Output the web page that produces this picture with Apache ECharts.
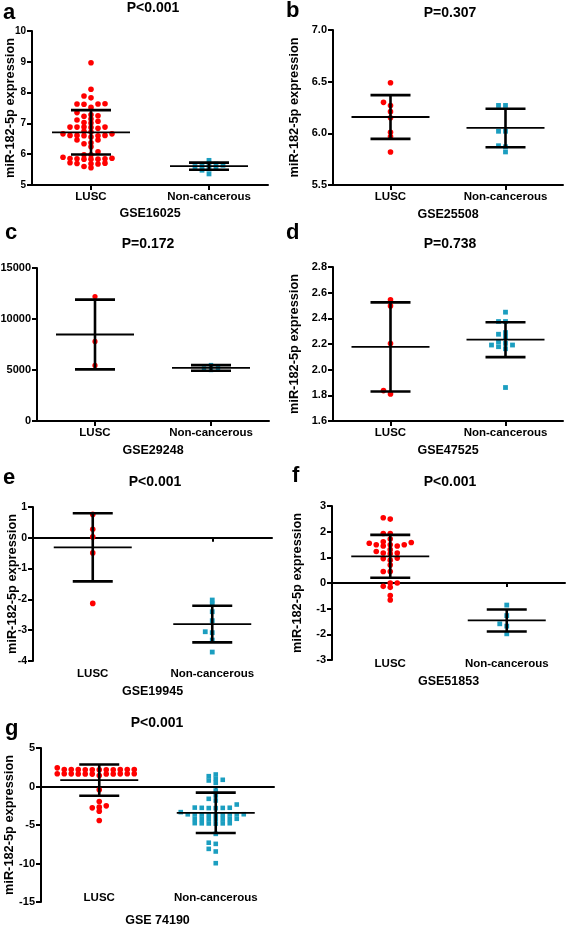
<!DOCTYPE html>
<html><head><meta charset="utf-8">
<script src="https://cdn.jsdelivr.net/npm/echarts@6/dist/echarts.min.js"></script>
<style>html,body{margin:0;padding:0;background:#fff}#c{width:567px;height:928px}</style>
</head><body><div id="c"></div>
<script>
const categories = ['LUSC', 'Non-cancerous'];
const yAxisTitle = 'miR-182-5p expression';

// a — GSE16025
const aTitle = 'P<0.001';
const aDataset = 'GSE16025';
const aLUSC = [8.97, 8.11, 7.89, 7.83, 7.64, 7.63, 7.63, 7.62, 7.52, 7.35, 7.28, 7.25, 7.23, 7.14, 7.11, 7.07, 7.03, 7.01, 6.88, 6.88, 6.88, 6.88, 6.87, 6.84, 6.74, 6.72, 6.66, 6.66, 6.61, 6.61, 6.61, 6.60, 6.60, 6.56, 6.46, 6.46, 6.37, 6.34, 6.24, 6.08, 5.98, 5.98, 5.90, 5.87, 5.86, 5.85, 5.85, 5.84, 5.84, 5.84, 5.72, 5.71, 5.70, 5.69, 5.68, 5.60, 5.56];
const aNC = [5.80, 5.68, 5.66, 5.64, 5.62, 5.60, 5.55, 5.52, 5.48, 5.36];
const aMean = [6.71, 5.61];
const aSD = [0.72, 0.115];
const aTicks = [5, 6, 7, 8, 9, 10];

// b — GSE25508
const bTitle = 'P=0.307';
const bDataset = 'GSE25508';
const bLUSC = [6.49, 6.30, 6.27, 6.21, 6.15, 6.01, 5.97, 5.82];
const bNC = [6.27, 6.27, 6.02, 6.02, 5.88, 5.87, 5.82];
const bMean = [6.158, 6.052];
const bSD = [0.212, 0.186];
const bTicks = [5.5, 6.0, 6.5, 7.0];

// c — GSE29248
const cTitle = 'P=0.172';
const cDataset = 'GSE29248';
const cLUSC = [12200, 7800, 5450];
const cNC = [5480, 5200, 5150, 5000];
const cMean = [8480, 5200];
const cSD = [3420, 280];
const cTicks = [0, 5000, 10000, 15000];

// d — GSE47525
const dTitle = 'P=0.738';
const dDataset = 'GSE47525';
const dLUSC = [2.544, 2.497, 2.203, 1.837, 1.811];
const dNC = [2.448, 2.375, 2.375, 2.289, 2.276, 2.255, 2.218, 2.205, 2.192, 2.192, 2.179, 2.163, 1.861];
const dMean = [2.177, 2.234];
const dSD = [0.347, 0.136];
const dTicks = [1.6, 1.8, 2.0, 2.2, 2.4, 2.6, 2.8];

// e — GSE19945
const eTitle = 'P<0.001';
const eDataset = 'GSE19945';
const eLUSC = [0.76, 0.28, 0.03, -0.49, -2.13];
const eNC = [-2.02, -2.15, -2.40, -2.69, -3.05, -3.08, -3.32, -3.71];
const eMean = [-0.31, -2.80];
const eSD = [1.105, 0.595];
const eTicks = [-4, -3, -2, -1, 0, 1];

// f — GSE51853
const fTitle = 'P<0.001';
const fDataset = 'GSE51853';
const fLUSC = [2.54, 2.49, 1.93, 1.93, 1.71, 1.61, 1.58, 1.55, 1.49, 1.49, 1.49, 1.44, 1.44, 1.30, 1.23, 1.17, 1.17, 1.14, 0.97, 0.95, 0.89, 0.70, 0.45, 0.45, 0.00, 0.00, -0.13, -0.17, -0.49, -0.66];
const fNC = [-0.86, -1.27, -1.59, -1.68, -1.98];
const fMean = [1.04, -1.46];
const fSD = [0.835, 0.43];
const fTicks = [-3, -2, -1, 0, 1, 2, 3];

// g — GSE 74190
const gTitle = 'P<0.001';
const gDataset = 'GSE 74190';
const gLUSC = [2.42, 2.21, 2.21, 2.20, 2.20, 2.19, 2.19, 2.18, 2.18, 2.17, 2.17, 2.17, 1.66, 1.66, 1.65, 1.65, 1.64, 1.64, 1.63, 1.63, 1.62, 1.62, 1.61, 1.43, -0.43, -1.95, -2.51, -2.68, -2.77, -3.20, -4.42];
const gNC = [1.56, 1.34, 1.00, 0.87, 0.78, 0.48, -0.52, -1.17, -1.60, -1.82, -2.34, -2.74, -2.76, -2.77, -2.78, -2.80, -2.81, -3.33, -3.60, -3.61, -3.62, -3.63, -3.64, -3.65, -3.66, -3.67, -3.68, -4.19, -4.20, -4.21, -4.22, -4.23, -4.24, -4.25, -4.76, -4.77, -4.78, -4.79, -4.80, -4.82, -6.15, -7.30, -7.45, -8.10, -8.44, -9.96];
const gMean = [0.82, -3.42];
const gSD = [2.03, 2.62];
const gTicks = [-15, -10, -5, 0, 5];

const panels = [
  {letter: 'a', title: aTitle, dataset: aDataset, lusc: aLUSC, nc: aNC, mean: aMean, sd: aSD, ticks: aTicks, dec: 0, yName: true},
  {letter: 'b', title: bTitle, dataset: bDataset, lusc: bLUSC, nc: bNC, mean: bMean, sd: bSD, ticks: bTicks, dec: 1, yName: true},
  {letter: 'c', title: cTitle, dataset: cDataset, lusc: cLUSC, nc: cNC, mean: cMean, sd: cSD, ticks: cTicks, dec: 0, yName: false},
  {letter: 'd', title: dTitle, dataset: dDataset, lusc: dLUSC, nc: dNC, mean: dMean, sd: dSD, ticks: dTicks, dec: 1, yName: true},
  {letter: 'e', title: eTitle, dataset: eDataset, lusc: eLUSC, nc: eNC, mean: eMean, sd: eSD, ticks: eTicks, dec: 0, yName: true},
  {letter: 'f', title: fTitle, dataset: fDataset, lusc: fLUSC, nc: fNC, mean: fMean, sd: fSD, ticks: fTicks, dec: 0, yName: true},
  {letter: 'g', title: gTitle, dataset: gDataset, lusc: gLUSC, nc: gNC, mean: gMean, sd: gSD, ticks: gTicks, dec: 0, yName: true}
];

// layout (pixels) for each panel
const layout = [
  {left: 32, top: 31, width: 236, height: 154, yNameGap: 15.5, tickFont: 10, labelMargin: 6, xNameGap: 22, zero: false, letterPos: [3, 13], titlePos: [153, 8], r: 2.8, s: 4.8},
  {left: 333, top: 30, width: 230, height: 155, yNameGap: 32, tickFont: 11, labelMargin: 6, xNameGap: 23, zero: false, letterPos: [286, 11], titlePos: [450, 13], r: 2.8, s: 4.8},
  {left: 37, top: 268, width: 232, height: 153, yNameGap: 30, tickFont: 11, labelMargin: 6, xNameGap: 23, zero: false, letterPos: [5, 233], titlePos: [148, 244], r: 2.6, s: 4.4},
  {left: 333, top: 267, width: 230, height: 154, yNameGap: 32, tickFont: 11, labelMargin: 5.5, xNameGap: 23, zero: false, letterPos: [286, 233], titlePos: [450, 244], r: 2.8, s: 4.8},
  {left: 33, top: 507, width: 239, height: 154, yNameGap: 14, tickFont: 10.5, labelMargin: 7, xNameGap: 24, zero: true, letterPos: [3, 478], titlePos: [155, 482], r: 2.8, s: 4.8},
  {left: 332, top: 506, width: 233, height: 154, yNameGap: 28, tickFont: 11, labelMargin: -2, xNameGap: 15, zero: true, letterPos: [292, 476], titlePos: [450, 482], r: 2.8, s: 4.8},
  {left: 41, top: 748, width: 233, height: 154, yNameGap: 25, tickFont: 11, labelMargin: -10, xNameGap: 12, zero: true, letterPos: [5, 729], titlePos: [157, 723], r: 2.8, s: 4.6}
];

const FONT = '"Liberation Sans", Arial, Helvetica, sans-serif';
const RED = '#ff0000';
const TEAL = '#1b9ec0';
const STEP = 7, DMIN = 3.8;

// beeswarm: horizontal pixel offsets so points with close values sit side by side
function swarm(values, pxPerUnit) {
  const order = values.map((v, i) => i).sort((a, b) => values[a] - values[b]);
  const placed = [];
  const off = new Array(values.length);
  order.forEach(i => {
    const y = values[i] * pxPerUnit;
    for (let k = 0; ; k++) {
      const slot = k === 0 ? 0 : (k % 2 === 1 ? -Math.ceil(k / 2) : Math.ceil(k / 2));
      if (!placed.some(p => p.slot === slot && Math.abs(p.y - y) < DMIN)) {
        placed.push({y, slot});
        off[i] = slot * STEP;
        break;
      }
    }
  });
  return off;
}

const option = {animation: false, backgroundColor: '#fff', grid: [], xAxis: [], yAxis: [], series: [], graphic: []};
const blackLine = {color: '#000', width: 2};

panels.forEach((p, i) => {
  const L = layout[i];
  option.grid.push({left: L.left, top: L.top, width: L.width, height: L.height, containLabel: false, outerBoundsMode: 'none'});
  const yMin = p.ticks[0], yMax = p.ticks[p.ticks.length - 1];
  const interval = +(p.ticks[1] - p.ticks[0]).toFixed(6);
  const xi = option.xAxis.length;
  option.xAxis.push({
    type: 'category', gridIndex: i, data: categories, boundaryGap: true, position: 'bottom',
    axisLine: {show: !L.zero, onZero: false, lineStyle: blackLine},
    axisTick: {show: !L.zero, alignWithLabel: true, length: 5, lineStyle: blackLine},
    axisLabel: {margin: L.labelMargin, color: '#000', fontSize: 11.5, fontWeight: 'bold', fontFamily: FONT},
    splitLine: {show: false},
    name: p.dataset, nameLocation: 'middle', nameGap: L.xNameGap, nameMoveOverlap: false,
    nameTextStyle: {color: '#000', fontSize: 12.5, fontWeight: 'bold', fontFamily: FONT}
  });
  if (L.zero) {
    option.xAxis.push({
      type: 'category', gridIndex: i, data: categories, boundaryGap: true, position: 'bottom',
      axisLine: {show: true, onZero: true, lineStyle: blackLine},
      axisTick: {show: true, alignWithLabel: true, length: 4, lineStyle: blackLine},
      axisLabel: {show: false}, splitLine: {show: false}
    });
  }
  option.yAxis.push({
    type: 'value', gridIndex: i, min: yMin, max: yMax, interval: interval,
    axisLine: {show: true, onZero: false, lineStyle: blackLine},
    axisTick: {show: true, inside: false, length: 5, lineStyle: blackLine},
    axisLabel: {show: true, showMinLabel: true, showMaxLabel: true, margin: 6, color: '#000', fontSize: L.tickFont, fontWeight: 'bold', fontFamily: FONT,
      formatter: v => Number(v).toFixed(p.dec)},
    splitLine: {show: false},
    name: p.yName ? yAxisTitle : '', nameLocation: 'middle', nameRotate: 90, nameGap: L.yNameGap, nameMoveOverlap: false,
    nameTextStyle: {color: '#000', fontSize: 12.8, fontWeight: 'bold', fontFamily: FONT}
  });
  const ppu = L.height / (yMax - yMin);
  const groups = [
    {vals: p.lusc, cat: 0, shape: 'circle', color: RED},
    {vals: p.nc, cat: 1, shape: 'square', color: TEAL}
  ];
  groups.forEach(g => {
    const offs = swarm(g.vals, ppu);
    option.series.push({
      type: 'custom', xAxisIndex: xi, yAxisIndex: i, z: 2, clip: false,
      encode: {x: 0, y: 1},
      data: g.vals.map((v, k) => [g.cat, v, offs[k]]),
      renderItem: (params, api) => {
        const c = api.coord([api.value(0), api.value(1)]);
        const x = c[0] + api.value(2);
        if (g.shape === 'circle') {
          return {type: 'circle', shape: {cx: x, cy: c[1], r: L.r}, style: {fill: g.color}};
        }
        return {type: 'rect', shape: {x: x - L.s / 2, y: c[1] - L.s / 2, width: L.s, height: L.s}, style: {fill: g.color}};
      }
    });
  });
  // mean ± SD bars
  option.series.push({
    type: 'custom', xAxisIndex: xi, yAxisIndex: i, z: 3, clip: false,
    encode: {x: 0, y: 1},
    data: p.mean.map((m, k) => [k, m, p.sd[k]]),
    renderItem: (params, api) => {
      const x = api.value(0), m = api.value(1), s = api.value(2);
      const pm = api.coord([x, m]), pt = api.coord([x, m + s]), pb = api.coord([x, m - s]);
      const st = w => ({stroke: '#000', lineWidth: w});
      return {type: 'group', children: [
        {type: 'line', shape: {x1: pm[0] - 39, y1: pm[1], x2: pm[0] + 39, y2: pm[1]}, style: st(1.8)},
        {type: 'line', shape: {x1: pt[0], y1: pt[1], x2: pb[0], y2: pb[1]}, style: st(2.6)},
        {type: 'line', shape: {x1: pt[0] - 20, y1: pt[1], x2: pt[0] + 20, y2: pt[1]}, style: st(2.6)},
        {type: 'line', shape: {x1: pb[0] - 20, y1: pb[1], x2: pb[0] + 20, y2: pb[1]}, style: st(2.6)}
      ]};
    }
  });
  option.graphic.push({type: 'text', x: L.letterPos[0], y: L.letterPos[1],
    style: {text: p.letter, fill: '#000', font: 'bold 22px ' + FONT, align: 'left', verticalAlign: 'middle'}});
  option.graphic.push({type: 'text', x: L.titlePos[0], y: L.titlePos[1],
    style: {text: p.title, fill: '#000', font: 'bold 14px ' + FONT, align: 'center', verticalAlign: 'middle'}});
});

const chart = echarts.init(document.getElementById('c'), null, {renderer: 'canvas'});
chart.setOption(option);
</script>
</body></html>
